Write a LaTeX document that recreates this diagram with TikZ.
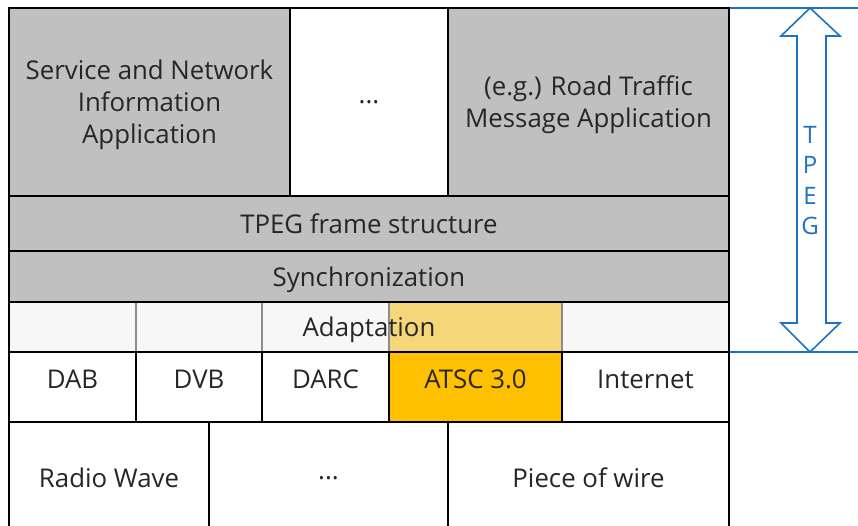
\documentclass[tikz,border=0pt]{standalone}
\usepackage{fontspec}
\setmainfont{Open Sans}
\definecolor{boxgray}{HTML}{C0C0C0}
\definecolor{adaptfill}{HTML}{F7F7F7}
\definecolor{atscfill}{HTML}{FFC000}
\definecolor{atsclight}{HTML}{F5D77A}
\definecolor{tpegblue}{HTML}{1C72C4}
\begin{document}
\begin{tikzpicture}[x=1pt,y=-1pt,
  every node/.style={font=\fontsize{25.8}{32}\selectfont, text=black!85, inner sep=0pt, outer sep=0pt},
  cell/.style={draw=black, line width=2.2pt, rectangle, align=center, text depth=0pt},
  raised/.style={text depth=16pt},
  grid/.style={draw=black!45, line width=1.4pt, rectangle},
  tpegline/.style={draw=tpegblue, line width=1.6pt}]
\useasboundingbox (0,0) rectangle (858,526);
\begin{scope}
\clip (0,0) rectangle (858,526);
% top row
\node[cell, fill=boxgray, minimum width=281pt, minimum height=188pt] (sni) at (149.5,102) {Service and Network\\Information\\Application};
\node[cell, fill=white, minimum width=158pt, minimum height=188pt] (dots1) at (369,102) {...};
\node[cell, fill=boxgray, minimum width=281pt, minimum height=188pt] (rtm) at (588.5,102) {(e.g.) Road Traffic\\Message Application};
% frame / sync
\node[cell, fill=boxgray, minimum width=720pt, minimum height=55pt] (frame) at (369,223.5) {TPEG frame structure};
\node[cell, fill=boxgray, minimum width=720pt, minimum height=51pt] (sync) at (369,276.5) {Synchronization};
% adaptation row
\node[grid, fill=adaptfill, minimum width=127pt, minimum height=50pt] (ad1) at (72.5,327) {};
\node[grid, fill=adaptfill, minimum width=126pt, minimum height=50pt] (ad2) at (199,327) {};
\node[grid, fill=adaptfill, minimum width=127pt, minimum height=50pt] (ad3) at (325.5,327) {};
\node[grid, fill=atsclight, minimum width=173pt, minimum height=50pt] (ad4) at (475.5,327) {};
\node[grid, fill=adaptfill, minimum width=167pt, minimum height=50pt] (ad5) at (645.5,327) {};
\node[cell, minimum width=720pt, minimum height=50pt] (adapt) at (369,327) {Adaptation};
% transport row
\node[cell, raised, fill=white, minimum width=127pt, minimum height=70pt] (dab) at (72.5,387) {DAB};
\node[cell, raised, fill=white, minimum width=126pt, minimum height=70pt] (dvb) at (199,387) {DVB};
\node[cell, raised, fill=white, minimum width=127pt, minimum height=70pt] (darc) at (325.5,387) {DARC};
\node[cell, raised, fill=atscfill, minimum width=173pt, minimum height=70pt] (atsc) at (475.5,387) {ATSC 3.0};
\node[cell, raised, fill=white, minimum width=167pt, minimum height=70pt] (inet) at (645.5,387) {Internet};
% physical row
\node[cell, fill=white, minimum width=200pt, minimum height=112pt] (radio) at (109,478) {Radio Wave};
\node[cell, fill=white, minimum width=239pt, minimum height=112pt] (dots2) at (328.5,478) {...};
\node[cell, fill=white, minimum width=281pt, minimum height=112pt] (wire) at (588.5,478) {Piece of wire};
\end{scope}
% TPEG bracket
\coordinate (ttop) at (730,8);
\coordinate (tbot) at (730,352);
\draw[tpegline] (ttop) -- (858,8);
\draw[tpegline] (tbot) -- (858,352);
\draw[tpegline, fill=white, line join=miter] (810,8) -- (840,36) -- (826,36) -- (826,323) -- (840,323) -- (810,352) -- (781,323) -- (797,323) -- (797,36) -- (781,36) -- cycle;
\node[text=tpegblue, align=center, font=\fontsize{24}{30.5}\selectfont] (tpeg) at (810,180.5) {T\\P\\E\\G};
\end{tikzpicture}
\end{document}
